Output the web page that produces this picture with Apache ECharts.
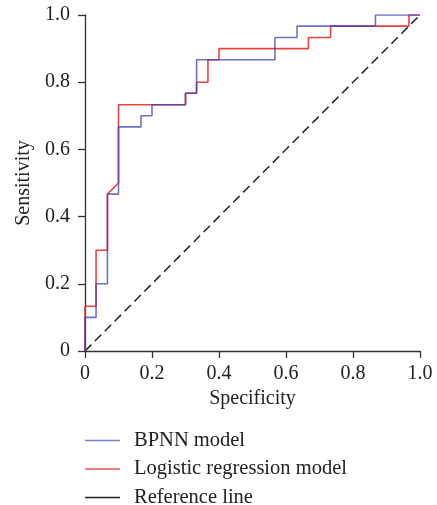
<!DOCTYPE html>
<html>
<head>
<meta charset="utf-8">
<script src="https://cdn.jsdelivr.net/npm/echarts@6/dist/echarts.min.js"></script>
<style>
html,body{margin:0;padding:0;background:#fff;}
#chart{width:437px;height:505px;}
</style>
</head>
<body>
<div id="chart"></div>
<script>
// ROC step-curve vertices (x = specificity axis, y = sensitivity)
const bpnnX = [0, 0, 0.033, 0.033, 0.067, 0.067, 0.1, 0.1, 0.167, 0.167, 0.2, 0.2, 0.3, 0.3, 0.333, 0.333, 0.567, 0.567, 0.633, 0.633, 0.867, 0.867, 1.0];
const bpnnY = [0, 0.1, 0.1, 0.2, 0.2, 0.467, 0.467, 0.667, 0.667, 0.7, 0.7, 0.733, 0.733, 0.767, 0.767, 0.867, 0.867, 0.933, 0.933, 0.967, 0.967, 1.0, 1.0];
const logitX = [0, 0, 0.033, 0.033, 0.067, 0.067, 0.1, 0.1, 0.3, 0.3, 0.333, 0.333, 0.367, 0.367, 0.4, 0.4, 0.667, 0.667, 0.733, 0.733, 0.967, 0.967, 1.0];
const logitY = [0, 0.133, 0.133, 0.3, 0.3, 0.467, 0.5, 0.733, 0.733, 0.767, 0.767, 0.8, 0.8, 0.867, 0.867, 0.9, 0.9, 0.933, 0.933, 0.967, 0.967, 1.0, 1.0];
const refX = [0, 1];
const refY = [0, 1];
const tickValues = [0, 0.2, 0.4, 0.6, 0.8, 1.0];
const tickLabels = ['0', '0.2', '0.4', '0.6', '0.8', '1.0'];
const seriesNames = ['BPNN model', 'Logistic regression model', 'Reference line'];

const zip = (xs, ys) => xs.map((x, i) => [x, ys[i]]);
const fmt = v => { const i = tickValues.findIndex(t => Math.abs(t - v) < 1e-9); return i >= 0 ? tickLabels[i] : ''; };
const FONT = 'Liberation Serif';
const axisCommon = {
  type: 'value', min: 0, max: 1, interval: 0.2,
  splitLine: { show: false },
  axisLine: { show: true, lineStyle: { color: '#333', width: 1.3 } },
  axisTick: { show: true, length: 7, lineStyle: { color: '#333', width: 1.3 } },
  axisLabel: { formatter: fmt, color: '#222', fontFamily: FONT, fontSize: 20 },
  nameLocation: 'middle',
  nameTextStyle: { color: '#222', fontFamily: FONT, fontSize: 20 }
};

const chart = echarts.init(document.getElementById('chart'));
chart.setOption({
  animation: false,
  backgroundColor: '#fff',
  grid: { left: 85, right: 17, top: 15, bottom: 154 },
  xAxis: Object.assign({}, axisCommon, { name: 'Specificity', nameGap: 37,
    axisLabel: Object.assign({}, axisCommon.axisLabel, { margin: 13 }) }),
  yAxis: Object.assign({}, axisCommon, { name: 'Sensitivity', nameGap: 48,
    axisLabel: Object.assign({}, axisCommon.axisLabel, { margin: 15 }) }),
  legend: {
    orient: 'vertical', left: 85, top: 430, height: 90, padding: 0,
    itemWidth: 35, itemHeight: 14, itemGap: 7.5,
    icon: 'path://M0,6.5 L35,6.5 L35,8 L0,8 Z',
    textStyle: { fontFamily: FONT, fontSize: 20.5, color: '#222', lineHeight: 20, padding: [0, 0, 0, 9] },
    data: [
      { name: seriesNames[0], itemStyle: { color: '#7a7ed0' } },
      { name: seriesNames[1], itemStyle: { color: '#e8504e' } },
      { name: seriesNames[2], itemStyle: { color: '#222' } }
    ]
  },
  series: [
    { name: seriesNames[2], type: 'line', data: zip(refX, refY), symbol: 'none',
      lineStyle: { color: '#222', width: 1.5, type: [9, 5] }, itemStyle: { color: '#222' }, z: 1 },
    { name: seriesNames[1], type: 'line', data: zip(logitX, logitY), symbol: 'none',
      lineStyle: { color: '#e62f2d', width: 1.6, opacity: 0.9 }, itemStyle: { color: '#e62f2d' }, z: 2 },
    { name: seriesNames[0], type: 'line', data: zip(bpnnX, bpnnY), symbol: 'none',
      lineStyle: { color: '#3d42b8', width: 1.6, opacity: 0.75 }, itemStyle: { color: '#3d42b8' }, z: 3 }
  ]
});
</script>
</body>
</html>
